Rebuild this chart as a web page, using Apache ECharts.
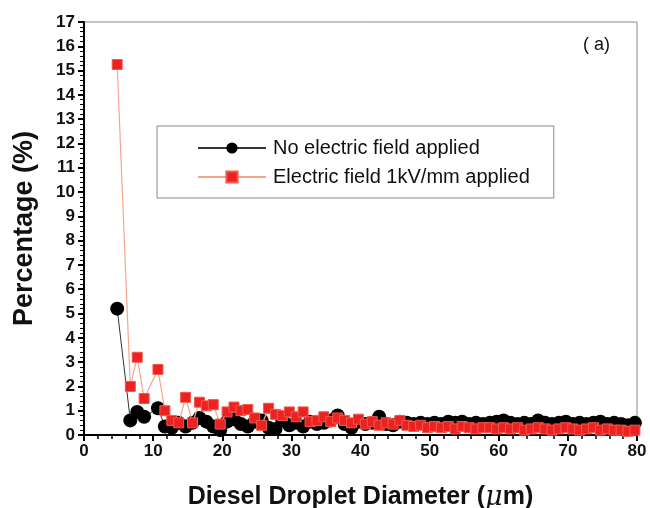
<!DOCTYPE html>
<html>
<head>
<meta charset="utf-8">
<script src="https://cdn.jsdelivr.net/npm/echarts@6/dist/echarts.min.js"></script>
<style>
  html, body { margin: 0; padding: 0; background: #fff; }
  #container { width: 650px; height: 508px; }
</style>
</head>
<body>
<div id="container"></div>
<script>
// droplet diameter (um)
var diameter = [4.8, 6.7, 7.7, 8.7, 10.7, 11.7, 12.7, 13.7, 14.7, 15.7, 16.7, 17.7, 18.7, 19.7,
	20.7, 21.7, 22.7, 23.7, 24.7, 25.7, 26.7, 27.7, 28.7, 29.7, 30.7, 31.7, 32.7, 33.7, 34.7,
	35.7, 36.7, 37.7, 38.7, 39.7, 40.7, 41.7, 42.7, 43.7, 44.7, 45.7, 46.7, 47.7, 48.7, 49.7,
	50.7, 51.7, 52.7, 53.7, 54.7, 55.7, 56.7, 57.7, 58.7, 59.7, 60.7, 61.7, 62.7, 63.7, 64.7,
	65.7, 66.7, 67.7, 68.7, 69.7, 70.7, 71.7, 72.7, 73.7, 74.7, 75.7, 76.7, 77.7, 78.7, 79.7];
// no electric field
var noField = [5.2, 0.6, 0.95, 0.75, 1.1, 0.35, 0.3, 0.5, 0.35, 0.5, 0.7, 0.55, 0.35, 0.2,
	0.55, 0.65, 0.45, 0.35, 0.55, 0.6, 0.3, 0.25, 0.6, 0.4, 0.5, 0.35, 0.55, 0.45, 0.5,
	0.6, 0.8, 0.45, 0.3, 0.55, 0.45, 0.5, 0.75, 0.45, 0.4, 0.55, 0.5, 0.45, 0.5, 0.45,
	0.5, 0.45, 0.55, 0.5, 0.55, 0.45, 0.5, 0.45, 0.5, 0.55, 0.6, 0.5, 0.45, 0.5, 0.45,
	0.6, 0.5, 0.45, 0.5, 0.55, 0.45, 0.5, 0.45, 0.5, 0.55, 0.45, 0.5, 0.45, 0.4, 0.5];
// electric field 1kV/mm
var withField = [15.25, 2.0, 3.2, 1.5, 2.7, 1.0, 0.6, 0.5, 1.55, 0.5, 1.35, 1.2, 1.25, 0.45,
	0.95, 1.15, 1.0, 1.05, 0.7, 0.4, 1.1, 0.85, 0.8, 0.95, 0.75, 0.95, 0.55, 0.6, 0.75,
	0.55, 0.7, 0.6, 0.5, 0.65, 0.45, 0.55, 0.4, 0.5, 0.45, 0.6, 0.4, 0.35, 0.4, 0.3,
	0.35, 0.3, 0.35, 0.25, 0.35, 0.3, 0.25, 0.3, 0.3, 0.25, 0.3, 0.25, 0.3, 0.2, 0.25,
	0.3, 0.25, 0.2, 0.25, 0.3, 0.25, 0.2, 0.25, 0.3, 0.2, 0.25, 0.2, 0.2, 0.15, 0.2];
var seriesNames = ['No electric field applied', 'Electric field 1kV/mm applied'];

function pairs(xs, ys) {
	var out = [];
	for (var i = 0; i < xs.length; i++) out.push([xs[i], ys[i]]);
	return out;
}

var myChart = echarts.init(document.getElementById('container'));
var font = 'Liberation Sans, Arial, sans-serif';

var option = {
	animation: false,
	grid: {
		left: 84, right: 13, top: 22, bottom: 73,
		outerBoundsMode: 'none',
		show: true, borderColor: '#8a8a8a', borderWidth: 1
	},
	legend: {
		data: seriesNames,
		orient: 'vertical',
		left: 157, top: 126,
		padding: [12, 24, 11, 40],
		itemGap: 9,
		itemWidth: 68,
		itemHeight: 14,
		borderColor: '#8a8a8a',
		borderWidth: 1,
		textStyle: { fontFamily: font, fontSize: 20, color: '#111', padding: [0, 0, 0, 2] }
	},
	graphic: [{
		type: 'text', left: 583, top: 36,
		style: { text: '( a)', fontFamily: font, fontSize: 18, fill: '#111' }
	}],
	xAxis: {
		type: 'value', min: 0, max: 80, interval: 10,
		name: 'Diesel Droplet Diameter ({mu|μ}m)',
		nameLocation: 'middle', nameGap: 49,
		nameTextStyle: {
			fontFamily: font, fontSize: 25, fontWeight: 'bold', color: '#111',
			rich: { mu: { fontFamily: 'DejaVu Serif, serif', fontStyle: 'italic', fontSize: 27, fontWeight: 'normal', color: '#111' } }
		},
		splitLine: { show: false },
		axisLine: { onZero: false, lineStyle: { color: '#000', width: 2 } },
		axisTick: { length: 6, lineStyle: { color: '#000', width: 2 } },
		minorTick: { show: true, splitNumber: 5, length: 4, lineStyle: { color: '#000', width: 1.5 } },
		axisLabel: { fontFamily: font, fontSize: 17, fontWeight: 'bold', color: '#111', margin: 8 }
	},
	yAxis: {
		type: 'value', min: 0, max: 17, interval: 1,
		name: 'Percentage (%)',
		nameLocation: 'middle', nameGap: 46,
		nameTextStyle: { fontFamily: font, fontSize: 27, fontWeight: 'bold', color: '#111' },
		splitLine: { show: false },
		axisLine: { onZero: false, lineStyle: { color: '#000', width: 2 } },
		axisTick: { length: 6, lineStyle: { color: '#000', width: 2 } },
		minorTick: { show: true, splitNumber: 5, length: 4, lineStyle: { color: '#000', width: 1 } },
		axisLabel: { fontFamily: font, fontSize: 17, fontWeight: 'bold', color: '#111', margin: 9 }
	},
	series: [
		{
			name: seriesNames[0],
			type: 'line',
			data: pairs(diameter, noField),
			symbol: 'circle', symbolSize: 14,
			itemStyle: { color: '#000' },
			lineStyle: { color: '#333', width: 1 },
			z: 2
		},
		{
			name: seriesNames[1],
			type: 'line',
			data: pairs(diameter, withField),
			symbol: 'rect', symbolSize: 10,
			itemStyle: { color: '#ec2121', borderColor: '#f25a4a', borderWidth: 1 },
			lineStyle: { color: '#f5a58e', width: 1.2 },
			z: 3
		}
	]
};
myChart.setOption(option);
</script>
</body>
</html>
